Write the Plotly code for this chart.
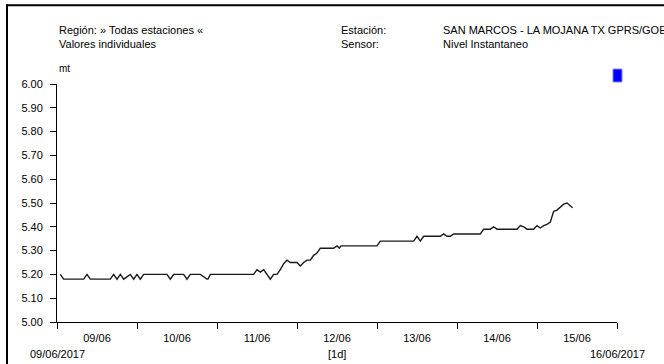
import plotly.graph_objects as go
from datetime import datetime, timedelta

# Data: hours since 09/06/2017 00:00 and level (mt)
hours = [1, 2, 8, 9, 10, 16, 17, 18, 19, 20, 22, 23, 24, 25, 26, 33, 34, 35, 38, 39, 40,
         43, 45, 45.3, 46, 59, 60, 61, 62, 63, 64, 65, 66, 67, 68, 69, 70, 72, 73, 74, 75,
         76, 77, 78, 79, 83, 84, 84.7, 85.2, 86, 96, 97, 107, 108, 109, 110, 115, 116, 117,
         118, 119, 127, 128, 130, 131, 132, 138, 139, 140, 141, 143, 144, 145, 146, 147,
         148, 149, 150, 150.6, 152, 153, 154, 154.7]
level = [5.20, 5.18, 5.18, 5.20, 5.18, 5.18, 5.20, 5.18, 5.20, 5.18, 5.20, 5.18, 5.20, 5.18,
         5.20, 5.20, 5.18, 5.20, 5.20, 5.18, 5.20, 5.20, 5.18, 5.18, 5.20, 5.20, 5.22, 5.21,
         5.22, 5.20, 5.18, 5.20, 5.20, 5.22, 5.245, 5.26, 5.25, 5.25, 5.235, 5.25, 5.26, 5.26,
         5.28, 5.29, 5.31, 5.31, 5.32, 5.31, 5.32, 5.32, 5.32, 5.34, 5.34, 5.36, 5.34, 5.36,
         5.36, 5.37, 5.36, 5.36, 5.37, 5.37, 5.39, 5.39, 5.40, 5.39, 5.39, 5.405, 5.40, 5.39,
         5.39, 5.405, 5.395, 5.405, 5.41, 5.42, 5.465, 5.47, 5.478, 5.495, 5.50, 5.49, 5.48]

start = datetime(2017, 6, 9)
end = datetime(2017, 6, 16)
times = [start + timedelta(hours=h) for h in hours]

y_ticks = [5.00, 5.10, 5.20, 5.30, 5.40, 5.50, 5.60, 5.70, 5.80, 5.90, 6.00]

FONT = "Liberation Sans Narrow, Arial Narrow, Liberation Sans, Arial, sans-serif"

fig = go.Figure()
fig.add_trace(go.Scatter(x=times, y=level, mode="lines",
                         line=dict(color="#1a1a1a", width=1.4), showlegend=False))

W, H = 664, 364
L, R = 57, 617
T, B = 84, 322.5

def px(x):
    return (x - L) / (R - L)

def py(y):
    return (B - y) / (B - T)

fig.update_layout(
    width=W, height=H,
    margin=dict(l=L, r=W - R, t=T, b=H - B, pad=0),
    paper_bgcolor="white", plot_bgcolor="white",
    font=dict(family=FONT, size=11, color="black"),
    xaxis=dict(range=[start, end], showgrid=False, zeroline=False,
               showline=True, linecolor="black", linewidth=1,
               ticks="outside", ticklen=6, tickcolor="black",
               dtick=86400000, tick0=start, tickformat="%d/%m",
               ticklabelmode="period", tickfont=dict(size=11)),
    yaxis=dict(range=[5.0, 6.0], showgrid=False, zeroline=False,
               showline=True, linecolor="black", linewidth=1,
               ticks="outside", ticklen=6, tickcolor="black",
               tickvals=y_ticks, tickformat=".2f", tickfont=dict(size=11),
               ticklabelstandoff=5),
)

texts = [
    ("Región: » Todas estaciones «", 57, 30),
    ("Valores individuales", 57, 44),
    ("Estación:", 339, 30),
    ("Sensor:", 339, 44),
    ("SAN MARCOS - LA MOJANA TX GPRS/GOES", 441, 30),
    ("Nivel Instantaneo", 441, 44),
]
for t, x, y in texts:
    fig.add_annotation(text=t, x=px(x), y=py(y), xref="paper", yref="paper",
                       xanchor="left", yanchor="middle", showarrow=False,
                       font=dict(size=11), align="left")

fig.add_annotation(text="mt", x=px(57), y=py(68), xref="paper", yref="paper",
                   xanchor="left", yanchor="middle", showarrow=False, font=dict(size=10))

for t, x in [("09/06/2017", 57), ("[1d]", 337), ("16/06/2017", 617)]:
    fig.add_annotation(text=t, x=px(x), y=py(355), xref="paper", yref="paper",
                       xanchor="center", yanchor="middle", showarrow=False,
                       font=dict(size=11))

# frame
fig.add_shape(type="line", xref="paper", yref="paper", x0=px(6), x1=px(700),
              y0=py(5), y1=py(5), line=dict(color="black", width=2))
fig.add_shape(type="line", xref="paper", yref="paper", x0=px(7), x1=px(7),
              y0=py(4), y1=py(400), line=dict(color="black", width=2))

# legend square
fig.add_shape(type="rect", xref="paper", yref="paper", x0=px(613), x1=px(622),
              y0=py(82), y1=py(69), fillcolor="#0000ff",
              line=dict(color="#8080ff", width=1))

fig.write_html("out.html", config={"displayModeBar": False},
               post_script="document.body.style.margin='0';document.body.style.overflow='hidden';")
